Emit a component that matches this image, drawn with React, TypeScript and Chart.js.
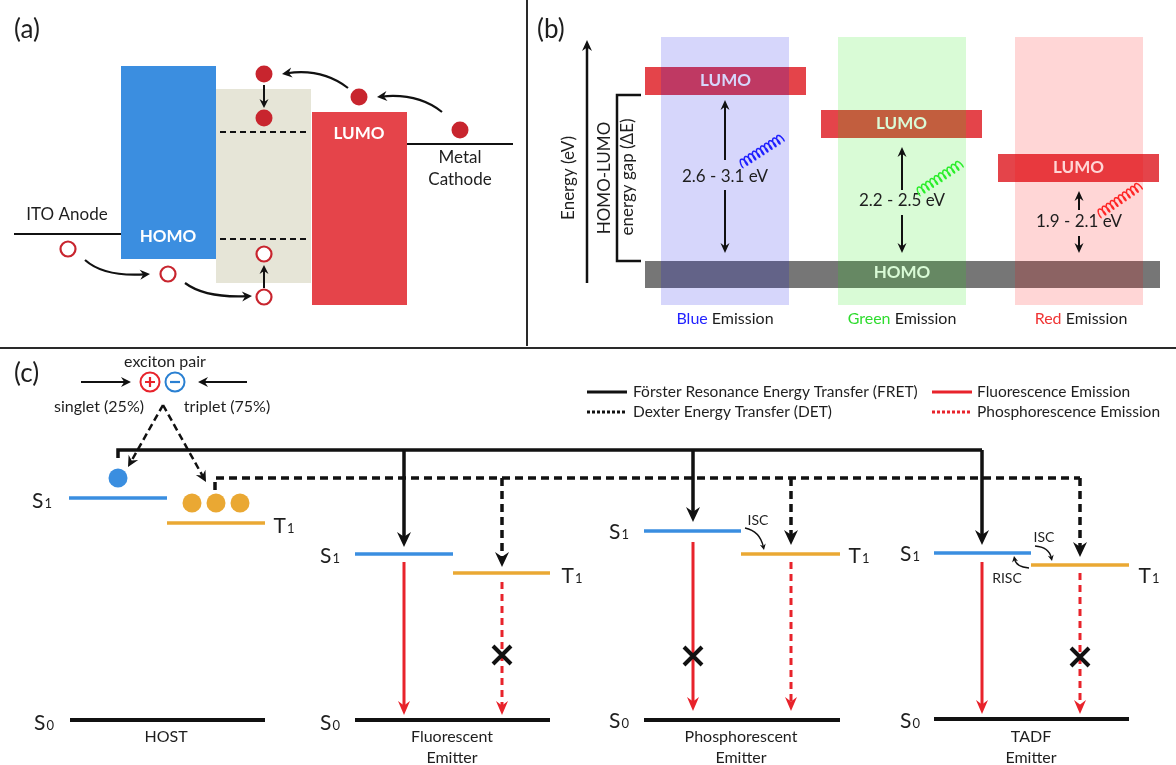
import React, { useEffect, useRef } from 'react';
import { Chart, registerables } from 'chart.js';
Chart.register(...registerables);

type P = [number, number];
const W = 1176;
const H = 765;
const FONT = 'Lato, "Open Sans", sans-serif';

// ================= Panel (a): device energy levels =================
const aBands: number[][] = [[121, 66, 216, 259], [216, 89, 311, 283], [312, 112, 407, 305]];
const aBandColors = ['#3b8ee0', '#e6e5d7', '#e5444a'];
const aBandLabels: [string, number, number][] = [['HOMO', 168, 237], ['LUMO', 359, 134]];
const aElectrodes: P[][] = [[[14, 234], [121, 234]], [[407, 144], [513, 144]]];
const aTrapLevels: P[][] = [[[220, 132], [306, 132]], [[220, 239], [306, 239]]];
const aElectrons: P[] = [[264, 74], [264, 118], [359, 97], [460, 130]];
const aHoles: P[] = [[68, 249], [168, 274], [264, 254], [264, 297]];
const aStraightArrows: P[][] = [[[264, 85], [264, 108]], [[264, 288], [264, 265]]];
const aCurvedArrows: P[][] = [
  [[348, 88], [322, 68], [282, 74]],
  [[442, 112], [418, 93], [377, 97]],
  [[85, 260], [104, 277], [150, 274]],
  [[185, 283], [205, 298], [252, 296]],
];
const aTexts: [string, number, number][] = [['ITO Anode', 67, 215], ['Metal', 460, 158], ['Cathode', 460, 180]];

// ================= Panel (b): emission colours =================
const bColumns: number[][] = [[661, 37, 789, 305], [838, 37, 966, 305], [1015, 37, 1143, 305]];
const bColumnColors = ['rgba(0,0,230,0.16)', 'rgba(20,230,0,0.16)', 'rgba(255,0,0,0.16)'];
const bLumoBands: number[][] = [[645, 67, 806, 95], [821, 110, 982, 138], [998, 154, 1159, 182]];
const bHomoBand: number[] = [645, 261, 1160, 288];
const bEnergyAxis: P[] = [[587, 283], [587, 40]];
const bBracket: P[] = [[641, 95], [617, 95], [617, 261], [641, 261]];
const bGapArrows: P[][] = [
  [[725, 160], [725, 100]], [[725, 190], [725, 253]],
  [[902, 190], [902, 147]], [[902, 215], [902, 253]],
  [[1079, 210], [1079, 191]], [[1079, 236], [1079, 253]],
];
const bGapLabels: [string, number, number][] = [['2.6 - 3.1 eV', 725, 177], ['2.2 - 2.5 eV', 902, 201], ['1.9 - 2.1 eV', 1079, 222]];
const bPhotons: P[][] = [[[740, 165], [783, 137]], [[917, 193], [962, 163]], [[1098, 215], [1141, 185]]];
const bPhotonColors = ['#1f1fff', '#2bee2b', '#ff2626'];
const bEmissionNames = ['Blue', 'Green', 'Red'];
const bEmissionX = [725, 902, 1081];
const bEmissionColors = ['#2323ff', '#2fdc2f', '#f03434'];

// ================= Panel (c): exciton harvesting =================
const cExcitonIn: P[][] = [[[81, 382], [131, 382]], [[247, 382], [198, 382]]];
const cCharges: P[] = [[150, 382], [175, 382]];
const cChargeColors = ['#e8232b', '#2a80d2'];
const cExcitonSplit: P[][] = [[[163, 405], [128, 467]], [[163, 405], [206, 482]]];
const cFretPath: P[] = [[118, 458], [118, 450], [982, 450]];
const cFretArrows: P[][] = [[[404, 450], [404, 547]], [[693, 450], [693, 522]], [[982, 450], [982, 545]]];
const cDetPath: P[] = [[215, 490], [215, 478], [1080, 478]];
const cDetArrows: P[][] = [[[502, 478], [502, 567]], [[791, 478], [791, 545]], [[1080, 478], [1080, 557]]];
const cSingletDot: P[] = [[118, 478]];
const cTripletDots: P[] = [[192, 503], [216, 503], [240, 503]];
const cS1Levels: P[][] = [[[69, 498], [167, 498]], [[355, 554], [453, 554]], [[644, 531], [741, 531]], [[934, 553], [1031, 553]]];
const cT1Levels: P[][] = [[[167, 523], [265, 523]], [[453, 573], [550, 573]], [[741, 554], [840, 554]], [[1031, 565], [1129, 565]]];
const cS0Levels: P[][] = [[[70, 720], [265, 720]], [[355, 720], [550, 720]], [[644, 720], [840, 720]], [[934, 719], [1129, 719]]];
const cFluorArrows: P[][] = [[[404, 562], [404, 715]], [[693, 542], [693, 711]], [[982, 562], [982, 714]]];
const cPhosArrows: P[][] = [[[502, 582], [502, 715]], [[791, 562], [791, 711]], [[1080, 573], [1080, 714]]];
const cBlocked: P[] = [[502, 655], [693, 656], [1080, 657]];
const cIscArrows: P[][] = [
  [[745, 528], [760, 531], [764, 550]],
  [[1035, 546], [1049, 547], [1052, 561]],
  [[1029, 568], [1016, 567], [1014, 556]],
];
const cIscLabels: [string, number, number][] = [['ISC', 758, 520], ['ISC', 1044, 537], ['RISC', 1007, 578]];
const cLevelLabels: [string, string, number, number][] = [
  ['S', '1', 42, 500], ['T', '1', 284, 525], ['S', '0', 44, 722],
  ['S', '1', 330, 555], ['T', '1', 572, 575], ['S', '0', 330, 722],
  ['S', '1', 619, 531], ['T', '1', 859, 555], ['S', '0', 619, 720],
  ['S', '1', 910, 553], ['T', '1', 1149, 575], ['S', '0', 910, 720],
];
const cEmitterNames: [string[], number][] = [
  [['HOST'], 166], [['Fluorescent', 'Emitter'], 452], [['Phosphorescent', 'Emitter'], 741], [['TADF', 'Emitter'], 1031],
];
const cExcitonTexts: [string, number, number][] = [['exciton pair', 165, 362], ['singlet (25%)', 99, 407], ['triplet (75%)', 227, 407]];
const legendLabels = ['Förster Resonance Energy Transfer (FRET)', 'Dexter Energy Transfer (DET)', 'Fluorescence Emission', 'Phosphorescence Emission'];
const legendSwatches: P[][] = [[[587, 392], [627, 392]], [[587, 412], [627, 412]], [[932, 392], [972, 392]], [[932, 412], [972, 412]]];
const legendTextPos: P[] = [[633, 392], [633, 412], [977, 392], [977, 412]];
const panelLabels: [string, number, number][] = [['(a)', 14, 30], ['(b)', 537, 30], ['(c)', 14, 374]];
const dividers: P[][] = [[[527, 0], [527, 346]], [[0, 348], [W, 348]]];

// ================= styles =================
const BLACK = '#111111';
const TEXT = '#1e1e1e';
const ELECTRON = '#c8252e';
const C_BLUE = '#3a8ee0';
const C_ORANGE = '#eaa833';
const C_RED = '#e8232b';
const B_LUMO = '#e4444a';
const B_HOMO = '#767676';

function shorten(a: P, b: P, d: number): P {
  const dx = b[0] - a[0], dy = b[1] - a[1];
  const L = Math.hypot(dx, dy) || 1;
  return [b[0] - (dx / L) * d, b[1] - (dy / L) * d];
}

function lineDs(pts: P[], color: string, width: number, dash: number[] = []) {
  return {
    type: 'line' as const,
    data: pts.map(([x, y]) => ({ x, y })),
    borderColor: color,
    borderWidth: width,
    borderDash: dash,
    pointRadius: 0,
    pointHoverRadius: 0,
    fill: false,
    tension: 0,
    showLine: true,
    borderCapStyle: 'butt' as const,
    borderJoinStyle: 'miter' as const,
  };
}

function arrowDs(a: P[], color: string, width: number, back: number, dash: number[] = []) {
  return lineDs([a[0], shorten(a[0], a[1], back)], color, width, dash);
}

function dotDs(pts: P[], r: number, fill: string, stroke: string, sw: number) {
  return {
    type: 'line' as const,
    data: pts.map(([x, y]) => ({ x, y })),
    showLine: false,
    pointRadius: r,
    pointHoverRadius: r,
    pointBackgroundColor: fill,
    pointBorderColor: stroke,
    pointBorderWidth: sw,
    fill: false,
  };
}

function buildDatasets() {
  const ds: any[] = [];
  dividers.forEach((d) => ds.push(lineDs(d, '#2a2a2a', 2)));
  // panel a
  aElectrodes.forEach((d) => ds.push(lineDs(d, BLACK, 2.2)));
  aTrapLevels.forEach((d) => ds.push(lineDs(d, BLACK, 2, [6, 4])));
  aStraightArrows.forEach((d) => ds.push(arrowDs(d, BLACK, 2, 6)));
  ds.push(dotDs(aElectrons, 8.5, ELECTRON, ELECTRON, 0));
  ds.push(dotDs(aHoles, 7.5, '#ffffff', ELECTRON, 2.2));
  // panel b
  ds.push(arrowDs(bEnergyAxis, BLACK, 2.5, 7));
  ds.push(lineDs(bBracket, BLACK, 2.5));
  bGapArrows.forEach((d) => ds.push(arrowDs(d, BLACK, 2, 6)));
  // panel c
  cExcitonIn.forEach((d) => ds.push(arrowDs(d, BLACK, 2, 6)));
  cExcitonSplit.forEach((d) => ds.push(arrowDs(d, BLACK, 2.5, 6, [7, 4])));
  ds.push(lineDs(cFretPath, BLACK, 3.5));
  cFretArrows.forEach((d) => ds.push(arrowDs(d, BLACK, 3.5, 9)));
  ds.push(lineDs(cDetPath, BLACK, 3.5, [8, 5]));
  cDetArrows.forEach((d) => ds.push(arrowDs(d, BLACK, 3.5, 9, [8, 5])));
  cS1Levels.forEach((d) => ds.push(lineDs(d, C_BLUE, 3.5)));
  cT1Levels.forEach((d) => ds.push(lineDs(d, C_ORANGE, 3.5)));
  cS0Levels.forEach((d) => ds.push(lineDs(d, BLACK, 4)));
  cFluorArrows.forEach((d) => ds.push(arrowDs(d, C_RED, 3, 8)));
  cPhosArrows.forEach((d) => ds.push(arrowDs(d, C_RED, 3, 8, [7, 5])));
  ds.push(dotDs(cSingletDot, 9.5, C_BLUE, C_BLUE, 0));
  ds.push(dotDs(cTripletDots, 9.5, C_ORANGE, C_ORANGE, 0));
  ds.push(dotDs([cCharges[0]], 9.5, '#ffffff', cChargeColors[0], 2));
  ds.push(dotDs([cCharges[1]], 9.5, '#ffffff', cChargeColors[1], 2));
  // legend swatches
  ds.push(lineDs(legendSwatches[0], BLACK, 3));
  ds.push(lineDs(legendSwatches[1], BLACK, 3, [3, 2]));
  ds.push(lineDs(legendSwatches[2], C_RED, 3));
  ds.push(lineDs(legendSwatches[3], C_RED, 3, [3, 2]));
  return ds;
}

const diagramPlugin = {
  id: 'diagram',
  beforeDatasetsDraw(chart: any) {
    const ctx: CanvasRenderingContext2D = chart.ctx;
    const X = (v: number) => chart.scales.x.getPixelForValue(v);
    const Y = (v: number) => chart.scales.y.getPixelForValue(v);
    const rect = (r: number[], color: string) => {
      ctx.fillStyle = color;
      ctx.fillRect(X(r[0]), Y(r[1]), X(r[2]) - X(r[0]), Y(r[3]) - Y(r[1]));
    };
    ctx.save();
    aBands.forEach((r, i) => rect(r, aBandColors[i]));
    aBandLabels.forEach(([t, x, y]) => drawText(ctx, t, X(x), Y(y), 17, '#ffffff', 'bold'));
    bLumoBands.forEach((r) => rect(r, B_LUMO));
    rect(bHomoBand, B_HOMO);
    bLumoBands.forEach((r) => drawText(ctx, 'LUMO', X((r[0] + r[2]) / 2), Y((r[1] + r[3]) / 2), 17, '#ffffff', 'bold'));
    drawText(ctx, 'HOMO', X(902), Y(273), 17, '#ffffff', 'bold');
    bColumns.forEach((r, i) => rect(r, bColumnColors[i]));
    ctx.restore();
  },
  afterDatasetsDraw(chart: any) {
    const ctx: CanvasRenderingContext2D = chart.ctx;
    const X = (v: number) => chart.scales.x.getPixelForValue(v);
    const Y = (v: number) => chart.scales.y.getPixelForValue(v);
    const headOn = (a: P, b: P, L: number, Wd: number, color: string) => {
      const ang = Math.atan2(Y(b[1]) - Y(a[1]), X(b[0]) - X(a[0]));
      drawHead(ctx, X(b[0]), Y(b[1]), ang, L, Wd, color);
    };
    ctx.save();
    // panel a
    aStraightArrows.forEach((d) => headOn(d[0], d[1], 9, 9, BLACK));
    aCurvedArrows.forEach((c) => {
      ctx.strokeStyle = BLACK; ctx.lineWidth = 2.2; ctx.setLineDash([]);
      const end = shorten(c[1], c[2], 5);
      ctx.beginPath();
      ctx.moveTo(X(c[0][0]), Y(c[0][1]));
      ctx.quadraticCurveTo(X(c[1][0]), Y(c[1][1]), X(end[0]), Y(end[1]));
      ctx.stroke();
      headOn(c[1], c[2], 10, 10, BLACK);
    });
    aTexts.forEach(([t, x, y]) => drawText(ctx, t, X(x), Y(y), 17, TEXT));
    // panel b
    headOn(bEnergyAxis[0], bEnergyAxis[1], 11, 10, BLACK);
    bGapArrows.forEach((d) => headOn(d[0], d[1], 10, 9, BLACK));
    bGapLabels.forEach(([t, x, y]) => drawText(ctx, t, X(x), Y(y), 17, TEXT));
    bPhotons.forEach((p, i) => drawCoil(ctx, [X(p[0][0]), Y(p[0][1])], [X(p[1][0]), Y(p[1][1])], bPhotonColors[i]));
    drawText(ctx, 'Energy (eV)', X(569), Y(178), 17, TEXT, 'normal', 'center', -Math.PI / 2);
    drawText(ctx, 'HOMO-LUMO', X(605), Y(178), 17, TEXT, 'normal', 'center', -Math.PI / 2);
    drawText(ctx, 'energy gap (ΔE)', X(628), Y(177), 17, TEXT, 'normal', 'center', -Math.PI / 2);
    bEmissionNames.forEach((n, i) => drawParts(ctx, [[n, bEmissionColors[i]], [' Emission', TEXT]], X(bEmissionX[i]), Y(319), 16));
    // panel c
    cExcitonIn.forEach((d) => headOn(d[0], d[1], 10, 10, BLACK));
    cExcitonSplit.forEach((d) => headOn(d[0], d[1], 11, 11, BLACK));
    cFretArrows.forEach((d) => headOn(d[0], d[1], 15, 14, BLACK));
    cDetArrows.forEach((d) => headOn(d[0], d[1], 15, 14, BLACK));
    cFluorArrows.forEach((d) => headOn(d[0], d[1], 14, 12, C_RED));
    cPhosArrows.forEach((d) => headOn(d[0], d[1], 14, 12, C_RED));
    cBlocked.forEach(([x, y]) => {
      ctx.strokeStyle = BLACK; ctx.lineWidth = 4; ctx.setLineDash([]); ctx.lineCap = 'butt';
      ctx.beginPath();
      ctx.moveTo(X(x - 9), Y(y - 9)); ctx.lineTo(X(x + 9), Y(y + 9));
      ctx.moveTo(X(x + 9), Y(y - 9)); ctx.lineTo(X(x - 9), Y(y + 9));
      ctx.stroke();
    });
    cIscArrows.forEach((c) => {
      ctx.strokeStyle = BLACK; ctx.lineWidth = 1.4; ctx.setLineDash([]);
      const end = shorten(c[1], c[2], 3);
      ctx.beginPath();
      ctx.moveTo(X(c[0][0]), Y(c[0][1]));
      ctx.quadraticCurveTo(X(c[1][0]), Y(c[1][1]), X(end[0]), Y(end[1]));
      ctx.stroke();
      headOn(c[1], c[2], 6, 6, BLACK);
    });
    cIscLabels.forEach(([t, x, y]) => drawText(ctx, t, X(x), Y(y), 14, TEXT));
    // charge signs
    ctx.lineWidth = 2.2; ctx.setLineDash([]);
    ctx.strokeStyle = cChargeColors[0];
    ctx.beginPath();
    ctx.moveTo(X(cCharges[0][0] - 5), Y(cCharges[0][1])); ctx.lineTo(X(cCharges[0][0] + 5), Y(cCharges[0][1]));
    ctx.moveTo(X(cCharges[0][0]), Y(cCharges[0][1] - 5)); ctx.lineTo(X(cCharges[0][0]), Y(cCharges[0][1] + 5));
    ctx.stroke();
    ctx.strokeStyle = cChargeColors[1];
    ctx.beginPath();
    ctx.moveTo(X(cCharges[1][0] - 5), Y(cCharges[1][1])); ctx.lineTo(X(cCharges[1][0] + 5), Y(cCharges[1][1]));
    ctx.stroke();
    cExcitonTexts.forEach(([t, x, y]) => drawText(ctx, t, X(x), Y(y), 16, TEXT));
    cLevelLabels.forEach(([m, s, x, y]) => drawSub(ctx, m, s, X(x), Y(y)));
    cEmitterNames.forEach(([lines, x]) => lines.forEach((l, i) => drawText(ctx, l, X(x), Y(737 + i * 21), 16, TEXT)));
    legendLabels.forEach((l, i) => drawText(ctx, l, X(legendTextPos[i][0]), Y(legendTextPos[i][1]), 15.5, TEXT, 'normal', 'left'));
    panelLabels.forEach(([t, x, y]) => drawText(ctx, t, X(x), Y(y), 26, TEXT, 'normal', 'left'));
    ctx.restore();
  },
};

function drawText(ctx: CanvasRenderingContext2D, s: string, x: number, y: number, size: number, color: string, weight = 'normal', align: CanvasTextAlign = 'center', rot = 0) {
  ctx.save();
  ctx.translate(x, y);
  if (rot) ctx.rotate(rot);
  ctx.font = `${weight} ${size}px ${FONT}`;
  ctx.fillStyle = color;
  ctx.textAlign = align;
  ctx.textBaseline = 'middle';
  ctx.fillText(s, 0, 0);
  ctx.restore();
}

function drawParts(ctx: CanvasRenderingContext2D, parts: [string, string][], cx: number, y: number, size: number) {
  ctx.save();
  ctx.font = `normal ${size}px ${FONT}`;
  ctx.textBaseline = 'middle';
  ctx.textAlign = 'left';
  const total = parts.reduce((s, p) => s + ctx.measureText(p[0]).width, 0);
  let x = cx - total / 2;
  parts.forEach(([t, c]) => {
    ctx.fillStyle = c;
    ctx.fillText(t, x, y);
    x += ctx.measureText(t).width;
  });
  ctx.restore();
}

function drawSub(ctx: CanvasRenderingContext2D, main: string, sub: string, cx: number, y: number) {
  ctx.save();
  ctx.textBaseline = 'alphabetic';
  ctx.textAlign = 'left';
  ctx.fillStyle = TEXT;
  ctx.font = `normal 21px ${FONT}`;
  const wm = ctx.measureText(main).width;
  ctx.font = `normal 13px ${FONT}`;
  const ws = ctx.measureText(sub).width;
  const x0 = cx - (wm + ws + 1) / 2;
  ctx.font = `normal 21px ${FONT}`;
  ctx.fillText(main, x0, y + 8);
  ctx.font = `normal 13px ${FONT}`;
  ctx.fillText(sub, x0 + wm + 1, y + 8);
  ctx.restore();
}

function drawHead(ctx: CanvasRenderingContext2D, x: number, y: number, ang: number, L: number, Wd: number, color: string) {
  ctx.save();
  ctx.translate(x, y);
  ctx.rotate(ang);
  ctx.fillStyle = color;
  ctx.setLineDash([]);
  ctx.beginPath();
  ctx.moveTo(0, 0);
  ctx.lineTo(-L, -Wd / 2);
  ctx.lineTo(-L * 0.68, 0);
  ctx.lineTo(-L, Wd / 2);
  ctx.closePath();
  ctx.fill();
  ctx.restore();
}

function drawCoil(ctx: CanvasRenderingContext2D, a: number[], b: number[], color: string) {
  const dx = b[0] - a[0], dy = b[1] - a[1];
  const L = Math.hypot(dx, dy);
  const ux = dx / L, uy = dy / L;
  const nx = -uy, ny = ux;
  const turns = 10;
  const r = 4.2;
  ctx.save();
  ctx.strokeStyle = color;
  ctx.lineWidth = 1.5;
  ctx.setLineDash([]);
  ctx.beginPath();
  const steps = 400;
  for (let i = 0; i <= steps; i++) {
    const t = (i / steps) * turns * Math.PI * 2;
    const along = (i / steps) * (L - 3) + 1.5 - 1.5 * Math.sin(t);
    const perp = r * Math.cos(t);
    const px = a[0] + ux * along + nx * perp;
    const py = a[1] + uy * along + ny * perp;
    if (i === 0) ctx.moveTo(px, py); else ctx.lineTo(px, py);
  }
  ctx.stroke();
  ctx.restore();
}

export default function App() {
  const ref = useRef<HTMLCanvasElement | null>(null);
  useEffect(() => {
    if (!ref.current) return;
    const chart = new Chart(ref.current, {
      type: 'scatter',
      data: { datasets: buildDatasets() },
      options: {
        animation: false,
        responsive: false,
        maintainAspectRatio: false,
        events: [],
        layout: { padding: 0, autoPadding: false },
        plugins: { legend: { display: false }, tooltip: { enabled: false } },
        scales: {
          x: { type: 'linear', min: 0, max: W, display: false },
          y: { type: 'linear', min: 0, max: H, reverse: true, display: false },
        },
      },
      plugins: [diagramPlugin],
    } as any);
    return () => chart.destroy();
  }, []);
  return (
    <div style={{ position: 'absolute', left: 0, top: 0, width: W, height: H, background: '#ffffff' }}>
      <canvas ref={ref} width={W} height={H} style={{ display: 'block', width: W, height: H }} />
    </div>
  );
}
